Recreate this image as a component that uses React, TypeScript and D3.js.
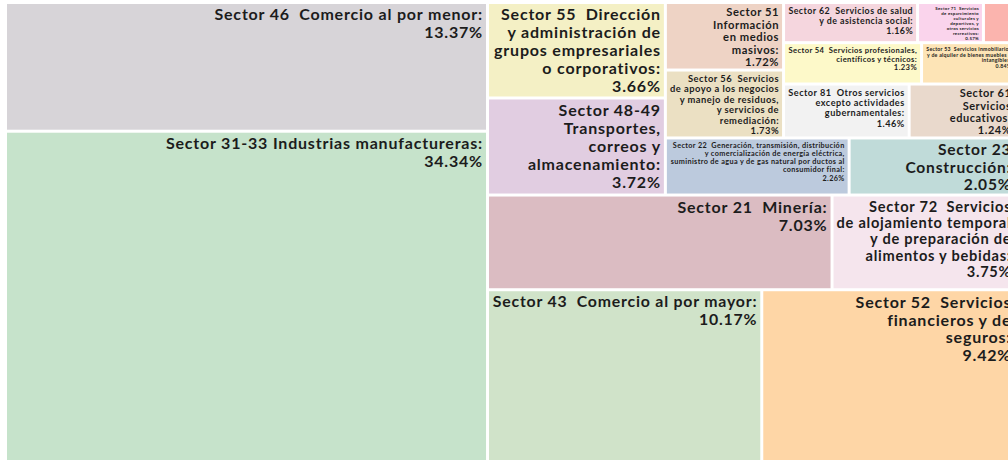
import React from "react";
import * as d3 from "d3";

const codes = ["31-33","46","43","52","21","72","48-49","55","22","23","56","51","81","61","54","53","62","71","11"];
const shares = [34.34,13.37,10.17,9.42,7.03,3.75,3.72,3.66,2.26,2.05,1.73,1.72,1.46,1.24,1.23,0.84,1.16,0.57,0.28];
const labelLines: string[][] = [
  ["Sector 31-33 Industrias manufactureras:"],
  ["Sector 46  Comercio al por menor:"],
  ["Sector 43  Comercio al por mayor:"],
  ["Sector 52  Servicios", "financieros y de", "seguros:"],
  ["Sector 21  Minería:"],
  ["Sector 72  Servicios", "de alojamiento temporal", "y de preparación de", "alimentos y bebidas:"],
  ["Sector 48-49", "Transportes,", "correos y", "almacenamiento:"],
  ["Sector 55  Dirección", "y administración de", "grupos empresariales", "o corporativos:"],
  ["Sector 22  Generación, transmisión, distribución", "y comercialización de energía eléctrica,", "suministro de agua y de gas natural por ductos al", "consumidor final:"],
  ["Sector 23", "Construcción:"],
  ["Sector 56  Servicios", "de apoyo a los negocios", "y manejo de residuos,", "y servicios de", "remediación:"],
  ["Sector 51", "Información", "en medios", "masivos:"],
  ["Sector 81  Otros servicios", "excepto actividades", "gubernamentales:"],
  ["Sector 61", "Servicios", "educativos:"],
  ["Sector 54  Servicios profesionales,", "científicos y técnicos:"],
  ["Sector 53  Servicios inmobiliarios", "y de alquiler de bienes muebles e", "intangibles:"],
  ["Sector 62  Servicios de salud", "y de asistencia social:"],
  ["Sector 71  Servicios", "de esparcimiento", "culturales y", "deportivos, y", "otros servicios", "recreativos:"],
  ["Sector 11  Pesca y acuicultura:"],
];

// layout strips (number of cells per strip, orientation)
const stripSizes = [2, 2, 2, 2, 2, 2, 2, 2, 3];
const stripDirs = ["col", "row", "row", "col", "row", "col", "row", "row", "row"];

const colors: Record<string, string> = {
  "31-33": "#c6e3cb", "46": "#d7d4d8", "43": "#d0e3c9", "52": "#fed6a6", "21": "#dbbcc2",
  "72": "#f5e5ed", "48-49": "#e1cde1", "55": "#f4f0c5", "22": "#bccadd", "23": "#c0dbd9",
  "56": "#ebe0c3", "51": "#eed3c5", "81": "#f2f2f2", "61": "#e9d9cc", "54": "#fdf9c9",
  "53": "#fde4b6", "62": "#f5d6de", "71": "#fad4ec", "11": "#fbb4ae",
};

const FONT = "Lato, 'Noto Sans', sans-serif";
const WEIGHT = 700;
const LS = 0.05; // letter spacing in em

const canvas = typeof document !== "undefined" ? document.createElement("canvas") : null;
function textWidth(s: string, fs: number) {
  const ctx = canvas!.getContext("2d")!;
  ctx.font = `${WEIGHT} 100px ${FONT}`;
  return (ctx.measureText(s).width / 100) * fs + s.length * LS * fs;
}

function stripTile(parent: any, x0: number, y0: number, x1: number, y1: number) {
  const nodes = parent.children;
  let remaining = parent.value;
  let i = 0;
  stripSizes.forEach((size, s) => {
    const group = nodes.slice(i, i + size);
    i += size;
    const sum = d3.sum(group, (d: any) => d.value);
    if (stripDirs[s] === "col") {
      const xm = x0 + ((x1 - x0) * sum) / remaining;
      let yb = y1;
      group.forEach((n: any) => {
        const h = ((y1 - y0) * n.value) / sum;
        n.x0 = x0; n.x1 = xm; n.y1 = yb; n.y0 = yb - h; yb -= h;
      });
      x0 = xm;
    } else {
      const ym = y1 - ((y1 - y0) * sum) / remaining;
      let xl = x0;
      group.forEach((n: any) => {
        const w = ((x1 - x0) * n.value) / sum;
        n.y0 = ym; n.y1 = y1; n.x0 = xl; n.x1 = xl + w; xl += w;
      });
      y1 = ym;
    }
    remaining -= sum;
  });
}

const W = 1007.3, H = 456.3, OX = 7, OY = 4;

export default function App() {
  const data = codes.map((c, i) => ({ code: c, value: shares[i], lines: labelLines[i] }));
  const root = d3.hierarchy<any>({ children: data }).sum((d: any) => d.value || 0);
  d3.treemap<any>().tile(stripTile as any).size([W, H]).paddingInner(3).round(false)(root);
  const leaves = root.leaves() as any[];
  const LH = 1.12;

  return (
    <svg width={1008} height={460} style={{ position: "absolute", left: 0, top: 0, background: "#fff" }}>
      <g transform={`translate(${OX},${OY})`}>
        {leaves.map((n) => {
          const d = n.data;
          const cw = n.x1 - n.x0, ch = n.y1 - n.y0;
          const lines = [...d.lines, `${d.value.toFixed(2)}%`];
          const maxW1 = d3.max(lines, (l: string) => textWidth(l, 1)) as number;
          const fs = Math.min(16, (cw - 6) / maxW1, (ch - 2) / (1.1 + (lines.length - 1) * LH));
          const showText = cw >= 40;
          return (
            <g key={d.code}>
              <rect x={n.x0} y={n.y0} width={cw} height={ch} fill={colors[d.code]} />
              {showText && (
                <text
                  x={n.x1 - 3}
                  textAnchor="end"
                  fontFamily={FONT}
                  fontWeight={WEIGHT}
                  fontSize={fs}
                  letterSpacing={`${LS}em`}
                  fill="#1c1c1c"
                >
                  {lines.map((l, k) => (
                    <tspan key={k} x={n.x1 - 3} y={n.y0 + 2 + fs * 0.9 + k * fs * LH} style={{ whiteSpace: "pre" }}>
                      {l}
                    </tspan>
                  ))}
                </text>
              )}
            </g>
          );
        })}
      </g>
    </svg>
  );
}
